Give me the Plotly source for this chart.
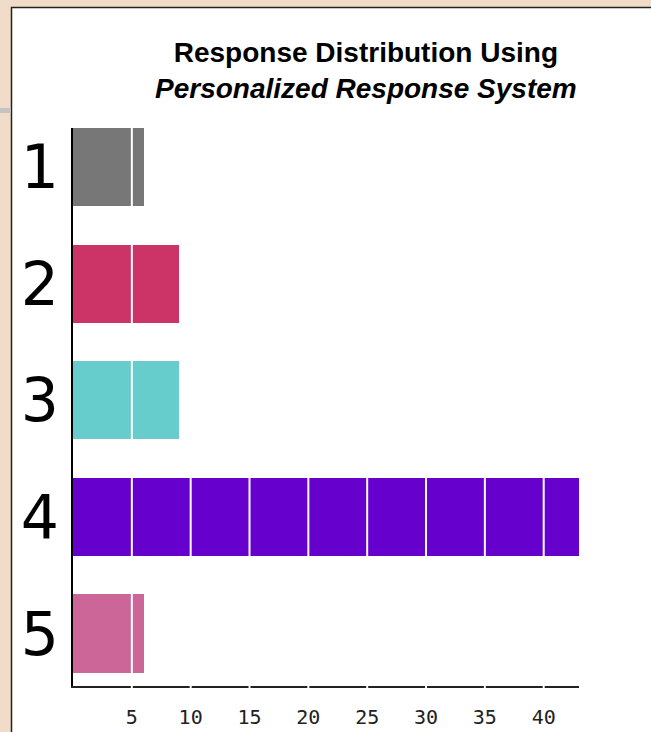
import plotly.graph_objects as go

categories = ["1", "2", "3", "4", "5"]
counts = [6, 9, 9, 43, 6]
bar_colors = ["#777777", "#CC3366", "#66CCCC", "#6600CC", "#CC6699"]
tick_values = [5, 10, 15, 20, 25, 30, 35, 40]
tick_labels = ["5", "10", "15", "20", "25", "30", "35", "40"]
title_line1 = "Response Distribution Using"
title_line2 = "Personalized Response System"

fig = go.Figure()
fig.add_trace(go.Bar(
    y=[int(c) for c in categories],
    x=counts,
    orientation="h",
    marker=dict(color=bar_colors, line=dict(width=0)),
    width=0.67,
    hoverinfo="x+y",
))

W, H = 651, 732
ml, mr, mt, mb = 73, 72, 128, 46
pw = W - ml - mr
ph = H - mt - mb

def px_x(p):
    return (p - ml) / pw

def px_y(p):
    return (H - mb - p) / ph

shapes = []
# white panel with dark border
shapes.append(dict(type="rect", xref="paper", yref="paper",
                   x0=px_x(11.5), x1=px_x(700), y0=px_y(800), y1=px_y(7.5),
                   fillcolor="white", line=dict(color="#222222", width=1.5), layer="below"))
# gray band on the left edge
shapes.append(dict(type="rect", xref="paper", yref="paper",
                   x0=px_x(0), x1=px_x(10.5), y0=px_y(113), y1=px_y(108),
                   fillcolor="#C4C4C4", line=dict(width=0), layer="below"))
# white grid lines drawn above the bars
for tv in tick_values:
    shapes.append(dict(type="line", xref="x", yref="paper",
                       x0=tv, x1=tv, y0=px_y(690), y1=1,
                       line=dict(color="white", width=2), layer="above"))

fig.update_layout(
    width=W, height=H,
    margin=dict(l=ml, r=mr, t=mt, b=mb, autoexpand=False),
    paper_bgcolor="#F0DCC8",
    plot_bgcolor="white",
    showlegend=False,
    bargap=0,
    shapes=shapes,
    xaxis=dict(range=[0, 43], tickvals=tick_values, ticktext=tick_labels,
               showgrid=False, zeroline=False, showline=True, linecolor="#222222",
               linewidth=2, ticks="", ticklabelstandoff=12, automargin=False,
               tickfont=dict(family="DejaVu Sans Mono", size=20, color="#222222"),
               fixedrange=True),
    yaxis=dict(range=[5.45, 0.665], tickvals=[int(c) for c in categories], ticktext=categories,
               showgrid=False, zeroline=False, showline=True, linecolor="black",
               linewidth=2, ticks="", ticklabelstandoff=0, automargin=False,
               tickfont=dict(family="DejaVu Sans", size=60, color="black"),
               fixedrange=True),
    annotations=[dict(
        xref="paper", yref="paper",
        x=px_x(366), y=px_y(70), xanchor="center", yanchor="middle",
        text="<b>" + title_line1 + "</b><br><b><i>" + title_line2 + "</i></b>",
        showarrow=False, align="center",
        font=dict(family="Liberation Sans, Arial", size=28, color="black"),
    )],
)

fig.write_html("out.html")
